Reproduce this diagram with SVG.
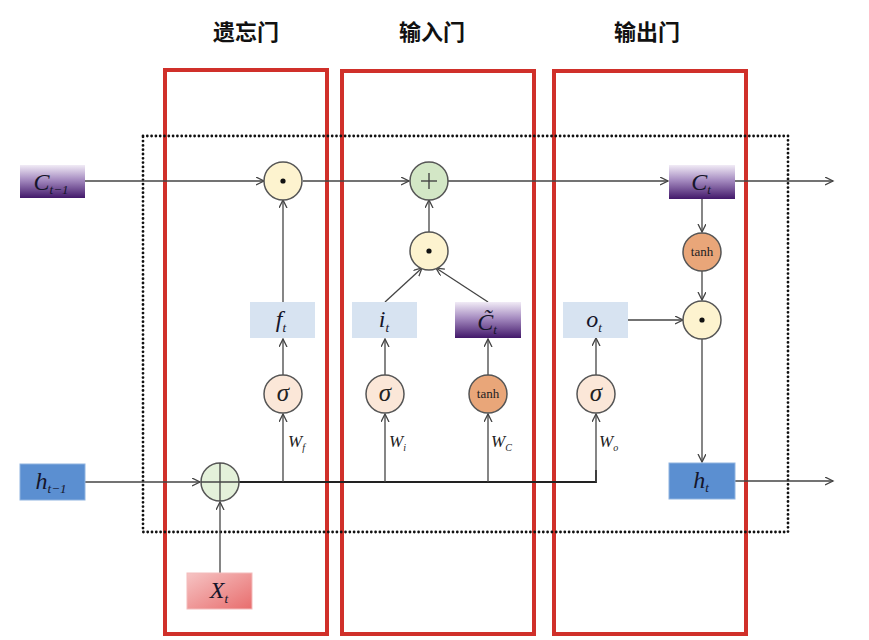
<svg xmlns="http://www.w3.org/2000/svg" width="869" height="640" viewBox="0 0 869 640">
<defs>
<marker id="arr" markerWidth="10" markerHeight="10" refX="8" refY="4" orient="auto" markerUnits="userSpaceOnUse">
<path d="M0,0 L8,4 L0,8" fill="none" stroke="#444" stroke-width="1.3"/>
</marker>
<linearGradient id="purple" x1="0" y1="0" x2="0" y2="1">
<stop offset="0" stop-color="#f1ebf6"/>
<stop offset="0.45" stop-color="#a58bc0"/>
<stop offset="1" stop-color="#42186a"/>
</linearGradient>
<linearGradient id="pink" x1="0" y1="0" x2="1" y2="1">
<stop offset="0" stop-color="#f6c4c4"/>
<stop offset="1" stop-color="#e86d6d"/>
</linearGradient>
</defs>
<style>
.title{font-family:"Noto Sans CJK SC","Noto Sans",sans-serif;font-size:22px;font-weight:bold;fill:#111;text-anchor:middle}
.red{fill:none;stroke:#d0302a;stroke-width:4}
.dot{fill:none;stroke:#111;stroke-width:2.8;stroke-dasharray:0 4.3;stroke-linecap:round}
.ln{stroke:#444;stroke-width:1.3;fill:none}
.lnA{stroke:#444;stroke-width:1.3;fill:none;marker-end:url(#arr)}
.main{stroke:#222;stroke-width:1.8;fill:none}
.lbl{font-family:"Liberation Serif",serif;font-style:italic;font-size:24px;fill:#15152a;text-anchor:middle}
.sub{font-size:13px}
.w{font-family:"Liberation Serif",serif;font-style:italic;font-size:17px;fill:#222}
.wsub{font-size:10px}
.circ{stroke:#555;stroke-width:1.5}
.mul{fill:#fdf3cf}
.sig{fill:#fbe7d8}
.tanhc{fill:#e9a679}
.add{fill:#d3e7c6}
.cat{fill:#e4f1da}
.sigt{font-family:"Liberation Serif",serif;font-style:italic;font-size:25px;fill:#222;text-anchor:middle}
.tanht{font-family:"Liberation Serif",serif;font-size:13px;fill:#222;text-anchor:middle}
.lb{fill:#d7e3f1}
.db{fill:#5b8fd1;stroke:#8fb3e0;stroke-width:1}
</style>

<g id="titles">
<text class="title" x="246" y="40">遗忘门</text>
<text class="title" x="432" y="40">输入门</text>
<text class="title" x="647" y="40">输出门</text>
</g>

<g id="gate-boxes">
<rect class="red" x="165" y="70" width="162" height="564"/>
<rect class="red" x="342" y="71" width="192" height="563"/>
<rect class="red" x="554" y="71" width="192" height="563"/>
</g>

<g id="cell-boundary">
<rect class="dot" x="143" y="136" width="645" height="396"/>
</g>

<g id="connectors">
<line class="lnA" x1="85" y1="181" x2="264" y2="181"/>
<line class="lnA" x1="303" y1="181" x2="409" y2="181"/>
<line class="lnA" x1="448" y1="181" x2="668" y2="181"/>
<line class="lnA" x1="735" y1="181" x2="833" y2="181"/>
<line class="lnA" x1="702" y1="199" x2="702" y2="232"/>
<line class="lnA" x1="702" y1="271" x2="702" y2="300"/>
<line class="lnA" x1="702" y1="339" x2="702" y2="462"/>
<line class="lnA" x1="628" y1="320" x2="683" y2="320"/>
<line class="lnA" x1="735" y1="481" x2="833" y2="481"/>
<line class="lnA" x1="85" y1="482" x2="200" y2="482"/>
<line class="lnA" x1="220" y1="573" x2="220" y2="502"/>
<polyline class="main" points="239,482 596,482 596,470"/>
<line class="lnA" x1="283" y1="482" x2="283" y2="414"/>
<line class="lnA" x1="385" y1="482" x2="385" y2="414"/>
<line class="lnA" x1="488" y1="482" x2="488" y2="414"/>
<line class="lnA" x1="596" y1="482" x2="596" y2="414"/>
<line class="lnA" x1="283" y1="375" x2="283" y2="339"/>
<line class="lnA" x1="385" y1="375" x2="385" y2="339"/>
<line class="lnA" x1="488" y1="375" x2="488" y2="339"/>
<line class="lnA" x1="596" y1="375" x2="596" y2="338"/>
<line class="lnA" x1="283" y1="302" x2="283" y2="200"/>
<line class="lnA" x1="385" y1="302" x2="422" y2="268"/>
<line class="lnA" x1="488" y1="302" x2="436" y2="268"/>
<line class="lnA" x1="429" y1="232" x2="429" y2="200"/>
</g>

<g id="w-labels">
<text class="w" x="288" y="447">W<tspan class="wsub" dy="4">f</tspan></text>
<text class="w" x="389" y="447">W<tspan class="wsub" dy="4">i</tspan></text>
<text class="w" x="491" y="447">W<tspan class="wsub" dy="4">C</tspan></text>
<text class="w" x="599" y="447">W<tspan class="wsub" dy="4">o</tspan></text>
</g>

<g id="C_prev">
<rect x="20" y="165" width="65" height="33" fill="url(#purple)"/>
<text class="lbl" x="51" y="190">C<tspan class="sub" dy="4">t−1</tspan></text>
</g>

<g id="h_prev">
<rect class="db" x="20" y="464" width="65" height="36"/>
<text class="lbl" x="51" y="489">h<tspan class="sub" dy="4">t−1</tspan></text>
</g>

<g id="X_t">
<rect x="187" y="573" width="65" height="36" fill="url(#pink)" stroke="#f3bcbc" stroke-width="1"/>
<text class="lbl" x="219" y="598">X<tspan class="sub" dy="5">t</tspan></text>
</g>

<g id="concat">
<circle class="circ cat" cx="220" cy="482" r="19"/>
<line x1="220" y1="463" x2="220" y2="501" stroke="#444" stroke-width="1.3"/>
<line x1="201" y1="482" x2="239" y2="482" stroke="#444" stroke-width="1.3"/>
</g>

<g id="sigma_f">
<circle class="circ sig" cx="283" cy="394" r="19"/>
<text class="sigt" x="283" y="401">σ</text>
</g>
<g id="f_t">
<rect class="lb" x="250" y="302" width="65" height="36"/>
<text class="lbl" x="281" y="327">f<tspan class="sub" dy="5">t</tspan></text>
</g>
<g id="mul_f">
<circle class="circ mul" cx="283" cy="181" r="19"/>
<circle cx="283" cy="181" r="2.6" fill="#111"/>
</g>

<g id="sigma_i">
<circle class="circ sig" cx="385" cy="394" r="19"/>
<text class="sigt" x="385" y="401">σ</text>
</g>
<g id="i_t">
<rect class="lb" x="352" y="302" width="65" height="36"/>
<text class="lbl" x="384" y="327">i<tspan class="sub" dy="5">t</tspan></text>
</g>
<g id="tanh_c">
<circle class="circ tanhc" cx="488" cy="394" r="19"/>
<text class="tanht" x="488" y="398">tanh</text>
</g>
<g id="C_tilde">
<rect x="455" y="302" width="66" height="36" fill="url(#purple)"/>
<text class="lbl" x="487" y="330">C̃<tspan class="sub" dy="4">t</tspan></text>
</g>
<g id="mul_i">
<circle class="circ mul" cx="429" cy="251" r="19"/>
<circle cx="429" cy="251" r="2.6" fill="#111"/>
</g>
<g id="add">
<circle class="circ add" cx="429" cy="181" r="19"/>
<line x1="421" y1="181" x2="437" y2="181" stroke="#444" stroke-width="1.4"/>
<line x1="429" y1="173" x2="429" y2="189" stroke="#444" stroke-width="1.4"/>
</g>

<g id="sigma_o">
<circle class="circ sig" cx="596" cy="394" r="19"/>
<text class="sigt" x="596" y="401">σ</text>
</g>
<g id="o_t">
<rect class="lb" x="563" y="302" width="65" height="36"/>
<text class="lbl" x="594" y="327">o<tspan class="sub" dy="5">t</tspan></text>
</g>
<g id="C_t">
<rect x="669" y="165" width="66" height="34" fill="url(#purple)"/>
<text class="lbl" x="701" y="190">C<tspan class="sub" dy="4">t</tspan></text>
</g>
<g id="tanh_o">
<circle class="circ tanhc" cx="702" cy="252" r="19"/>
<text class="tanht" x="702" y="256">tanh</text>
</g>
<g id="mul_o">
<circle class="circ mul" cx="702" cy="320" r="19"/>
<circle cx="702" cy="320" r="2.6" fill="#111"/>
</g>
<g id="h_t">
<rect class="db" x="669" y="463" width="66" height="36"/>
<text class="lbl" x="701" y="488">h<tspan class="sub" dy="4">t</tspan></text>
</g>
</svg>
